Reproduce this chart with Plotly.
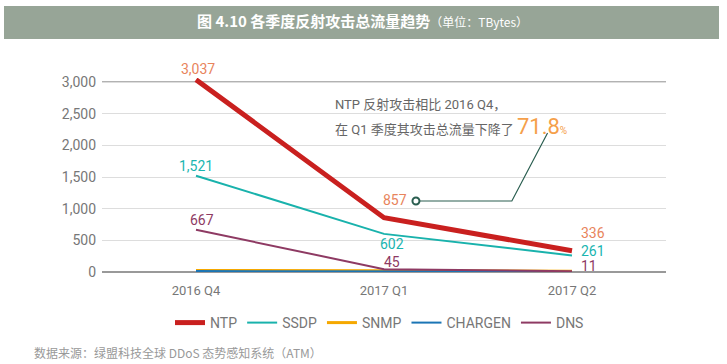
import plotly.graph_objects as go

categories = ["2016 Q4", "2017 Q1", "2017 Q2"]
ntp = [3037, 857, 336]
ssdp = [1521, 602, 261]
snmp = [25, 20, 12]
chargen = [15, 10, 6]
dns = [667, 45, 11]
y_ticks = [0, 500, 1000, 1500, 2000, 2500, 3000]

series = [
    ("NTP", ntp, "#C9201F", 5),
    ("SSDP", ssdp, "#19B2AC", 2),
    ("SNMP", snmp, "#F5A800", 3),
    ("CHARGEN", chargen, "#1B75B5", 2),
    ("DNS", dns, "#8E3A63", 2),
]

YMAX = 3000 * 194 / 190  # a little head-room above the 3,000 line

fig = go.Figure()
for name, vals, color, w in series:
    fig.add_trace(go.Scatter(x=categories, y=vals, name=name, mode="lines",
                             line=dict(color=color, width=w), cliponaxis=False))

# data labels
lab_font = dict(family="Roboto, sans-serif", size=14)
labels = [
    (0, ntp[0], "#E8845C", 2, 11),
    (0, ssdp[0], "#1AB5B0", 0, 10),
    (0, dns[0], "#8E3A63", 6, 10),
    (1, ntp[1], "#E8845C", 11, 18),
    (1, ssdp[1], "#1AB5B0", 8, -10),
    (1, dns[1], "#8E3A63", 8, 7),
    (2, ntp[2], "#E8845C", 21, 18),
    (2, ssdp[2], "#1AB5B0", 21, 4),
    (2, dns[2], "#8E3A63", 17, 5),
]
for i, v, c, xs, ys in labels:
    fig.add_annotation(x=categories[i], y=v, text=f"{v:,}", showarrow=False,
                       xshift=xs, yshift=ys, font=dict(color=c, **lab_font))

# leader line and callout
fig.add_shape(type="path", xref="x", yref="y",
              path="M 1.17 1121 L 1.68 1121 L 1.87 2195",
              line=dict(color="#2A5E50", width=1.2))
fig.add_shape(type="circle", xref="x", yref="y", xsizemode="pixel", ysizemode="pixel",
              xanchor=1.17, yanchor=1121, x0=-3.5, x1=3.5, y0=-3.5, y1=3.5,
              fillcolor="white", line=dict(color="#2A5E50", width=2))

PT, PB, PL, PR = 78, 272, 102, 666  # plot area in pixels


def px(x):
    return (x - PL) / (PR - PL)


def py(y):
    return (PB - y) / (PB - PT)


cjk = "Roboto, 'Noto Sans CJK SC', sans-serif"
fig.add_annotation(xref="paper", yref="paper", x=px(333), y=py(105),
                   xanchor="left", yanchor="middle", showarrow=False,
                   text="NTP 反射攻击相比 2016 Q4，", font=dict(family=cjk, size=13, color="#666"))
fig.add_annotation(xref="paper", yref="paper", x=px(333), y=py(126),
                   xanchor="left", yanchor="middle", showarrow=False,
                   text="在 Q1 季度其攻击总流量下降了 <span style='font-size:22px;color:#F5A04A'>71.8</span><span style='font-size:10px;color:#F5A04A'>%</span>",
                   font=dict(family=cjk, size=13, color="#666"))

# title bar
fig.add_shape(type="rect", xref="paper", yref="paper", x0=px(4), x1=px(719),
              y0=py(39), y1=py(6), fillcolor="#97A597", line=dict(width=0), layer="below")
fig.add_annotation(xref="paper", yref="paper", x=px(362), y=py(21),
                   xanchor="center", yanchor="middle", showarrow=False,
                   text="<b>图 4.10 各季度反射攻击总流量趋势</b><span style='font-size:12px'>（单位：TBytes）</span>",
                   font=dict(family="'Noto Sans CJK SC', sans-serif", size=15, color="white"))

# source
fig.add_annotation(xref="paper", yref="paper", x=px(32), y=py(352),
                   xanchor="left", yanchor="middle", showarrow=False,
                   text="数据来源：绿盟科技全球 DDoS 态势感知系统（ATM）",
                   font=dict(family="'Noto Sans CJK SC', sans-serif", size=12, color="#999"))

fig.update_layout(
    width=727, height=364,
    margin=dict(l=PL, r=727 - PR, t=PT, b=364 - PB),
    paper_bgcolor="white", plot_bgcolor="white",
    showlegend=True,
    legend=dict(orientation="h", x=px(170), xanchor="left", y=py(323), yanchor="middle",
                font=dict(family="Roboto, sans-serif", size=14, color="#777"),
                itemwidth=30),
    xaxis=dict(type="category", range=[-0.5, 2.5], showgrid=False, showline=False,
               ticks="", ticklabelstandoff=9,
               tickfont=dict(family="Roboto, sans-serif", size=13, color="#777")),
    yaxis=dict(range=[0, YMAX], tickvals=y_ticks, tickformat=",",
               gridcolor="#DDDDDD", gridwidth=1, zeroline=True, zerolinecolor="#999",
               zerolinewidth=1.5, showline=False, ticks="", ticklabelstandoff=5,
               tickfont=dict(family="Roboto, sans-serif", size=14, color="#777")),
)
fig.add_shape(type="line", xref="paper", yref="y", x0=0, x1=1, y0=3000, y1=3000,
              line=dict(color="#999", width=1.5), layer="below")
fig.write_html("out.html", config={"displayModeBar": False},
               post_script="document.body.style.margin='0';")
